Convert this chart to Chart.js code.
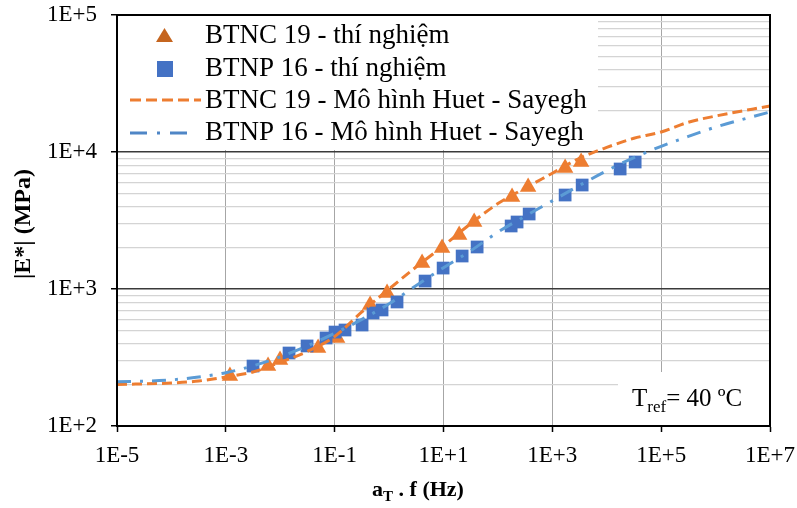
<!DOCTYPE html>
<html>
<head>
<meta charset="utf-8">
<script src="https://cdn.jsdelivr.net/npm/chart.js@4.4.1/dist/chart.umd.min.js"></script>
<style>
  html, body { margin: 0; padding: 0; background: #fff; }
  #wrap { width: 797px; height: 508px; position: relative; }
</style>
</head>
<body>
<div id="wrap"><canvas id="c" width="797" height="508"></canvas></div>
<script>
// ---------- DATA ----------
const seriesNames = ['BTNC 19 - thí nghiệm', 'BTNP 16 - thí nghiệm', 'BTNC 19 - Mô hình Huet - Sayegh', 'BTNP 16 - Mô hình Huet - Sayegh'];

const btnc19Freq = [1.19e-3, 5.97e-3, 9.9e-3, 0.0496, 0.111, 0.448, 0.918, 4.04, 9.42, 19.4, 36.6, 182, 359, 1718, 3382];
const btnc19Mod  = [232, 274, 303, 371, 439, 764, 935, 1549, 1993, 2479, 3083, 4694, 5559, 7643, 8453];

const btnp16Freq = [3.16e-3, 0.0145, 0.0311, 0.0695, 0.1016, 0.155, 0.319, 0.508, 0.743, 1.40, 4.59, 9.84, 22.0, 41.5, 175, 225, 375, 1718, 3532, 17620, 33270];
const btnp16Mod  = [274, 341, 384, 439, 485, 502, 546, 668, 703, 804, 1143, 1422, 1741, 2026, 2884, 3083, 3527, 4853, 5741, 7516, 8453];

const modelFreq = [1e-5, 1e-4, 3.16e-4, 1e-3, 3.16e-3, 1e-2, 3.16e-2, 1e-1, 3.16e-1, 1, 3.16, 10, 31.6, 100, 316, 1e3, 3.16e3, 1e4, 3.16e4, 1e5, 3.16e5, 1e6, 1e7];
const btnc19Model = [201, 206, 213, 228, 248, 292, 350, 450, 680, 1000, 1450, 2070, 3000, 4200, 5450, 7000, 9000, 10800, 12600, 14000, 16500, 18300, 21700];
const btnp16Model = [210, 217, 228, 245, 275, 320, 385, 475, 600, 780, 1060, 1430, 1900, 2600, 3400, 4400, 5700, 7300, 9100, 11000, 13000, 15200, 19600];

const xTickValues = [1e-5, 1e-3, 1e-1, 1e1, 1e3, 1e5, 1e7];
const xTickLabels = ['1E-5', '1E-3', '1E-1', '1E+1', '1E+3', '1E+5', '1E+7'];
const yTickValues = [100, 1000, 10000, 100000];
const yTickLabels = ['1E+2', '1E+3', '1E+4', '1E+5'];

const xTitleMain = 'a';
const xTitleSub = 'T';
const xTitleRest = ' . f (Hz)';
const yTitle = '|E*| (MPa)';
const noteMain = 'T';
const noteSub = 'ref';
const noteRest = '= 40 ºC';

// ---------- STYLE ----------
const ORANGE = '#ED7D31';
const ORANGE_DARK = '#C5651F';
const BLUE = '#4472C4';
const LIGHTBLUE = '#5B9BD5';
const SERIF = '"Liberation Serif", "Times New Roman", serif';

const pts = (xs, ys) => xs.map((x, i) => ({ x: x, y: ys[i] }));
const isMajorY = (c) => c.tick && yTickValues.some(t => Math.abs(t - c.tick.value) < 1e-6 * t);

const overlayPlugin = {
  id: 'overlay',
  beforeDatasetsDraw(chart) {
    const ctx = chart.ctx, a = chart.chartArea;
    ctx.save();
    ctx.fillStyle = '#fff';
    ctx.fillRect(a.left + 1, a.top + 1, 597 - a.left, 149 - a.top);
    ctx.fillRect(618, 372, a.right - 618 - 1, a.bottom - 372 - 1);
    ctx.restore();
  },
  afterDraw(chart) {
    const ctx = chart.ctx, a = chart.chartArea;
    ctx.save();
    ctx.strokeStyle = '#000';
    ctx.lineWidth = 2;
    ctx.strokeRect(a.left, a.top, a.right - a.left, a.bottom - a.top);

    // legend
    ctx.fillStyle = ORANGE_DARK;
    ctx.beginPath();
    ctx.moveTo(164.5, 28); ctx.lineTo(173, 42); ctx.lineTo(156, 42); ctx.closePath();
    ctx.fill();
    ctx.fillStyle = BLUE;
    ctx.fillRect(157, 61, 16, 16);
    ctx.lineWidth = 3;
    ctx.strokeStyle = ORANGE;
    ctx.setLineDash([11, 5]);
    ctx.beginPath(); ctx.moveTo(130, 100); ctx.lineTo(201, 100); ctx.stroke();
    ctx.strokeStyle = '#4F86C6';
    ctx.setLineDash([17, 10, 3, 10]);
    ctx.beginPath(); ctx.moveTo(130, 133); ctx.lineTo(191, 133); ctx.stroke();
    ctx.setLineDash([]);

    ctx.fillStyle = '#000';
    ctx.font = '27px ' + SERIF;
    ctx.textAlign = 'left';
    ctx.textBaseline = 'middle';
    const ys = [36, 69, 101, 133];
    seriesNames.forEach((n, i) => ctx.fillText(n, 205, ys[i]));

    // note
    ctx.textBaseline = 'alphabetic';
    ctx.font = '25px ' + SERIF;
    let x = 632;
    ctx.fillText(noteMain, x, 406);
    x += ctx.measureText(noteMain).width;
    ctx.font = '17px ' + SERIF;
    ctx.fillText(noteSub, x, 412);
    x += ctx.measureText(noteSub).width;
    ctx.font = '25px ' + SERIF;
    ctx.fillText(noteRest, x, 406);

    // x title
    ctx.font = 'bold 22px ' + SERIF;
    const wA = ctx.measureText(xTitleMain).width;
    const wR = ctx.measureText(xTitleRest).width;
    ctx.font = 'bold 15px ' + SERIF;
    const wT = ctx.measureText(xTitleSub).width;
    let tx = 418 - (wA + wT + wR) / 2;
    ctx.font = 'bold 22px ' + SERIF;
    ctx.fillText(xTitleMain, tx, 496);
    tx += wA;
    ctx.font = 'bold 15px ' + SERIF;
    ctx.fillText(xTitleSub, tx, 501);
    tx += wT;
    ctx.font = 'bold 22px ' + SERIF;
    ctx.fillText(xTitleRest, tx, 496);

    // y title
    ctx.translate(24, 224);
    ctx.rotate(-Math.PI / 2);
    ctx.textAlign = 'center';
    ctx.textBaseline = 'middle';
    ctx.font = 'bold 24px ' + SERIF;
    ctx.fillText(yTitle, 0, 0);
    ctx.restore();
  }
};

new Chart(document.getElementById('c'), {
  type: 'scatter',
  data: {
    datasets: [
      {
        label: seriesNames[3], data: pts(modelFreq, btnp16Model), showLine: true,
        borderColor: LIGHTBLUE, borderWidth: 3, borderDash: [14, 9, 3, 9], pointRadius: 0,
        cubicInterpolationMode: 'monotone', fill: false, order: 0
      },
      {
        label: seriesNames[2], data: pts(modelFreq, btnc19Model), showLine: true,
        borderColor: ORANGE, borderWidth: 3, borderDash: [10, 5], pointRadius: 0,
        cubicInterpolationMode: 'monotone', fill: false, order: 1
      },
      {
        label: seriesNames[1], data: pts(btnp16Freq, btnp16Mod), showLine: false,
        pointStyle: 'rect', pointRadius: 9, backgroundColor: BLUE, borderColor: BLUE, borderWidth: 0, order: 2
      },
      {
        label: seriesNames[0], data: pts(btnc19Freq, btnc19Mod), showLine: false,
        pointStyle: 'triangle', pointRadius: 9.5, backgroundColor: ORANGE, borderColor: ORANGE, borderWidth: 0, order: 3
      }
    ]
  },
  options: {
    responsive: false,
    devicePixelRatio: 1,
    animation: false,
    events: [],
    layout: { padding: { left: 0, right: 27, top: 15, bottom: 0 } },
    plugins: { legend: { display: false }, tooltip: { enabled: false } },
    scales: {
      x: {
        type: 'logarithmic', min: 1e-5, max: 1e7,
        afterBuildTicks: (s) => { s.ticks = xTickValues.map(v => ({ value: v })); },
        afterFit: (s) => { s.height = 82; s.paddingLeft = 0; s.paddingRight = 0; },
        ticks: {
          autoSkip: false, maxRotation: 0, padding: 10, color: '#000',
          font: { family: SERIF, size: 23 },
          callback: (v) => { const i = xTickValues.findIndex(t => Math.abs(Math.log10(t) - Math.log10(v)) < 1e-6); return i >= 0 ? xTickLabels[i] : ''; }
        },
        grid: { color: '#A6A6A6', lineWidth: 1, drawTicks: true, tickLength: 6, tickColor: '#000', tickWidth: 1.5 },
        border: { display: true, color: '#000', width: 2 }
      },
      y: {
        type: 'logarithmic', min: 100, max: 100000,
        afterBuildTicks: (s) => {
          const t = [];
          yTickValues.forEach((d, i) => {
            t.push({ value: d, major: true });
            if (i < yTickValues.length - 1) for (let m = 2; m <= 9; m++) t.push({ value: d * m });
          });
          s.ticks = t;
        },
        afterFit: (s) => { s.width = 117; s.paddingTop = 0; s.paddingBottom = 0; },
        ticks: {
          autoSkip: false, padding: 14, color: '#000',
          font: { family: SERIF, size: 23 },
          callback: (v) => { const i = yTickValues.findIndex(t => Math.abs(t - v) < 1e-6 * t); return i >= 0 ? yTickLabels[i] : ''; }
        },
        grid: {
          color: (c) => isMajorY(c) ? '#3A3A3A' : '#D4D4D4',
          lineWidth: (c) => isMajorY(c) ? 1.5 : 1.2,
          drawTicks: true, tickLength: 6, tickWidth: 1.5,
          tickColor: (c) => isMajorY(c) ? '#000' : 'rgba(0,0,0,0)'
        },
        border: { display: true, color: '#000', width: 2 }
      }
    }
  },
  plugins: [overlayPlugin]
});
</script>
</body>
</html>
